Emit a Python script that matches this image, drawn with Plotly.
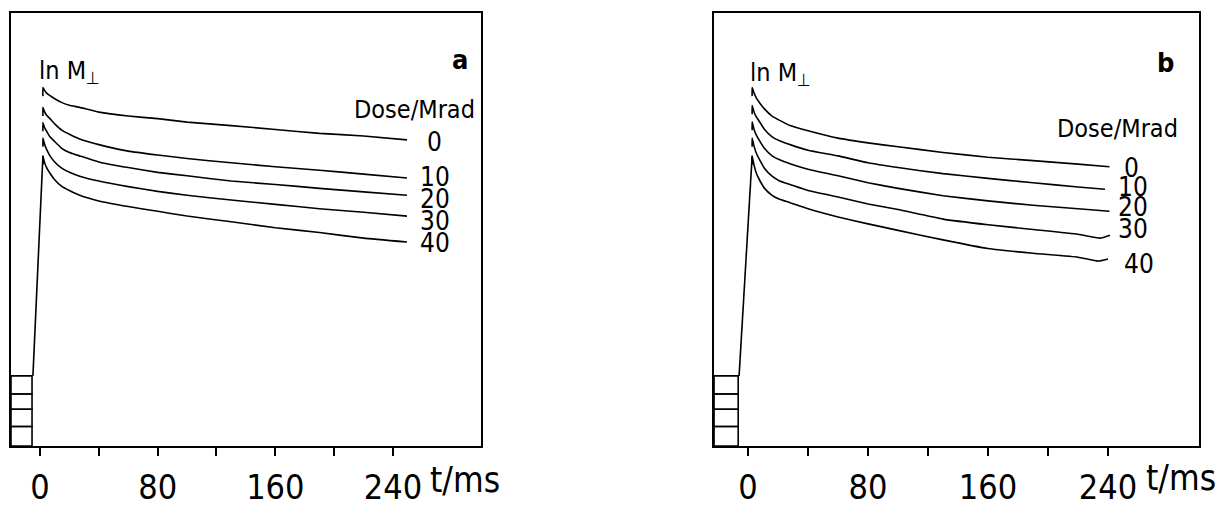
import plotly.graph_objects as go

# ---------------- data (arbitrary ln M units) ----------------
doses = ["0", "10", "20", "30", "40"]

# panel a: time (ms) and ln M for each dose
t_a = [2, 3, 4.5, 6.8, 10, 15, 20, 27, 40, 60, 80, 100, 130, 160, 190, 220, 249.5]
lnM_a_0 = [8.28, 8.22, 8.15, 8.09, 8.02, 7.93, 7.87, 7.82, 7.71, 7.62, 7.56, 7.48, 7.40, 7.31, 7.22, 7.16, 7.07]
lnM_a_10 = [7.82, 7.73, 7.64, 7.56, 7.44, 7.29, 7.20, 7.09, 6.96, 6.81, 6.72, 6.64, 6.54, 6.45, 6.37, 6.28, 6.19]
lnM_a_20 = [7.47, 7.36, 7.27, 7.14, 7.03, 6.87, 6.78, 6.70, 6.56, 6.43, 6.32, 6.24, 6.12, 6.04, 5.95, 5.87, 5.79]
lnM_a_30 = [7.11, 6.98, 6.85, 6.70, 6.56, 6.41, 6.32, 6.23, 6.12, 5.99, 5.88, 5.79, 5.68, 5.58, 5.48, 5.40, 5.31]
lnM_a_40 = [6.70, 6.56, 6.43, 6.30, 6.15, 5.99, 5.90, 5.79, 5.66, 5.53, 5.42, 5.31, 5.18, 5.04, 4.93, 4.80, 4.71]

# panel b
t_b = [2.7, 4, 5.5, 8, 11, 16, 21, 28, 40, 60, 80, 100, 130, 160, 190, 220, 241]
t_b10 = [2.7, 4, 5.5, 8, 11, 16, 21, 28, 40, 60, 80, 100, 130, 160, 190, 220, 238]
t_b30 = [2.7, 4, 5.5, 8, 11, 16, 21, 28, 40, 60, 80, 100, 130, 160, 190, 220, 234.7, 241.3]
t_b40 = [2.7, 4, 5.5, 8, 11, 16, 21, 28, 40, 60, 80, 100, 130, 160, 190, 220, 233.3, 240]
lnM_b_0 = [8.28, 8.15, 8.04, 7.91, 7.78, 7.62, 7.52, 7.40, 7.28, 7.11, 7.00, 6.91, 6.78, 6.67, 6.59, 6.51, 6.45]
lnM_b_10 = [7.86, 7.71, 7.60, 7.47, 7.31, 7.14, 7.05, 6.96, 6.83, 6.70, 6.54, 6.43, 6.29, 6.18, 6.08, 5.98, 5.93]
lnM_b_20 = [7.49, 7.31, 7.18, 7.03, 6.87, 6.70, 6.61, 6.52, 6.39, 6.24, 6.08, 5.95, 5.78, 5.66, 5.56, 5.48, 5.42]
lnM_b_30 = [7.11, 6.92, 6.76, 6.59, 6.41, 6.23, 6.12, 6.04, 5.90, 5.75, 5.59, 5.46, 5.24, 5.11, 5.00, 4.89, 4.80, 4.87]
lnM_b_40 = [6.70, 6.48, 6.30, 6.12, 5.95, 5.79, 5.70, 5.62, 5.48, 5.29, 5.13, 4.98, 4.76, 4.56, 4.45, 4.36, 4.27, 4.32]

# baseline step levels (small boxes at lower left) and start of the rise
box_levels = [0.0, 0.45, 0.85, 1.2, 1.62]
rise_a_t = [-4.8, 2.0]
rise_b_t = [-6.0, 2.7]

major_ticks = [0, 80, 160, 240]
minor_ticks = [40, 120, 200]

# ---------------- figure ----------------
FONT = "DejaVu Sans Condensed, Roboto, DejaVu Sans, sans-serif"
LW = 1.6
fig = go.Figure()

series_a = [(t_a, lnM_a_0), (t_a, lnM_a_10), (t_a, lnM_a_20), (t_a, lnM_a_30), (t_a, lnM_a_40)]
series_b = [(t_b, lnM_b_0), (t_b10, lnM_b_10), (t_b, lnM_b_20), (t_b30, lnM_b_30), (t_b40, lnM_b_40)]


def add_curves(series, xa, ya, rise_t):
    for tt, yy in series:
        # short vertical stub under each peak, then the decay
        xs = [tt[0]] + list(tt)
        ys = [yy[0] - 0.2] + list(yy)
        fig.add_trace(go.Scatter(x=xs, y=ys, mode="lines", xaxis=xa, yaxis=ya,
                                 line=dict(color="black", width=LW, shape="spline", smoothing=0.4),
                                 showlegend=False, hoverinfo="skip"))
    last = series[-1][1]
    fig.add_trace(go.Scatter(x=rise_t, y=[box_levels[-1], last[0]], mode="lines",
                             xaxis=xa, yaxis=ya, line=dict(color="black", width=LW),
                             showlegend=False, hoverinfo="skip"))


add_curves(series_a, "x", "y", rise_a_t)
add_curves(series_b, "x2", "y2", rise_b_t)

xr_a = [-19.7, 299.8]
xr_b = [-22.7, 300.7]

# small stacked boxes
for xr, rt, xref, yref in [(xr_a, rise_a_t, "x", "y"), (xr_b, rise_b_t, "x2", "y2")]:
    for lo, hi in zip(box_levels[:-1], box_levels[1:]):
        fig.add_shape(type="rect", xref=xref, yref=yref, x0=xr[0], x1=rt[0] - 0.6,
                      y0=lo, y1=hi, line=dict(color="black", width=LW))

axis_x = dict(showline=True, mirror=True, linecolor="black", linewidth=1.6,
              showgrid=False, zeroline=False, ticks="outside", ticklen=8, tickwidth=2,
              tickcolor="black", tickmode="array", tickvals=major_ticks,
              ticktext=[str(v) for v in major_ticks], ticklabelstandoff=2,
              minor=dict(tickmode="array", tickvals=minor_ticks, ticks="outside",
                         ticklen=8, tickwidth=2, tickcolor="black", showgrid=False),
              tickfont=dict(family=FONT, size=34, color="black"))
axis_y = dict(showline=True, mirror=True, linecolor="black", linewidth=1.6,
              showgrid=False, zeroline=False, showticklabels=False, ticks="",
              range=[0, 10])

fig.update_layout(
    width=1226, height=518,
    margin=dict(l=11, r=27, t=12, b=52),
    paper_bgcolor="white", plot_bgcolor="white",
    xaxis=dict(axis_x, domain=[0, 0.3956], range=xr_a),
    yaxis=dict(axis_y, domain=[0, 1]),
    xaxis2=dict(axis_x, domain=[0.5918, 1.0], range=xr_b, anchor="y2"),
    yaxis2=dict(axis_y, domain=[0, 1], anchor="x2"),
    font=dict(family=FONT, color="black"),
)

# dose labels at the curve ends
lab_a_t = [268.5, 268.5, 268.5, 268.5, 268.5]
lab_a_y = [7.03, 6.21, 5.70, 5.20, 4.69]
lab_b_t = [256.0, 256.5, 256.5, 256.5, 261.0]
lab_b_y = [6.43, 5.99, 5.51, 5.02, 4.21]
for d, tx, ty in zip(doses, lab_a_t, lab_a_y):
    fig.add_annotation(x=tx, y=ty, xref="x", yref="y", text=d, showarrow=False,
                       font=dict(family=FONT, size=26, color="black"))
for d, tx, ty in zip(doses, lab_b_t, lab_b_y):
    fig.add_annotation(x=tx, y=ty, xref="x2", yref="y2", text=d, showarrow=False,
                       font=dict(family=FONT, size=26, color="black"))

fig.add_annotation(x=254.5, y=7.78, xref="x", yref="y", text="Dose/Mrad", showarrow=False,
                   font=dict(family=FONT, size=25, color="black"))
fig.add_annotation(x=246.5, y=7.33, xref="x2", yref="y2", text="Dose/Mrad", showarrow=False,
                   font=dict(family=FONT, size=25, color="black"))

# y-axis titles inside the frame
fig.add_annotation(x=0.055, y=0.905, xref="x domain", yref="y domain", xanchor="left",
                   text="ln M<sub>⊥</sub>", showarrow=False,
                   font=dict(family=FONT, size=25, color="black"))
fig.add_annotation(x=0.070, y=0.900, xref="x2 domain", yref="y2 domain", xanchor="left",
                   text="ln M<sub>⊥</sub>", showarrow=False,
                   font=dict(family=FONT, size=25, color="black"))

# panel letters
fig.add_annotation(x=0.977, y=0.932, xref="x domain", yref="y domain", text="<b>a</b>",
                   showarrow=False, font=dict(family=FONT, size=27, color="black"))
fig.add_annotation(x=0.953, y=0.925, xref="x2 domain", yref="y2 domain", text="<b>b</b>",
                   showarrow=False, font=dict(family=FONT, size=27, color="black"))

# x-axis unit labels
fig.add_annotation(x=264, y=-0.078, xref="x", yref="paper", xanchor="left", yanchor="middle",
                   text="t/ms", showarrow=False, font=dict(family=FONT, size=35, color="black"))
fig.add_annotation(x=264, y=-0.075, xref="x2", yref="paper", xanchor="left", yanchor="middle",
                   text="t/ms", showarrow=False, font=dict(family=FONT, size=35, color="black"))

fig.write_html("out.html")
